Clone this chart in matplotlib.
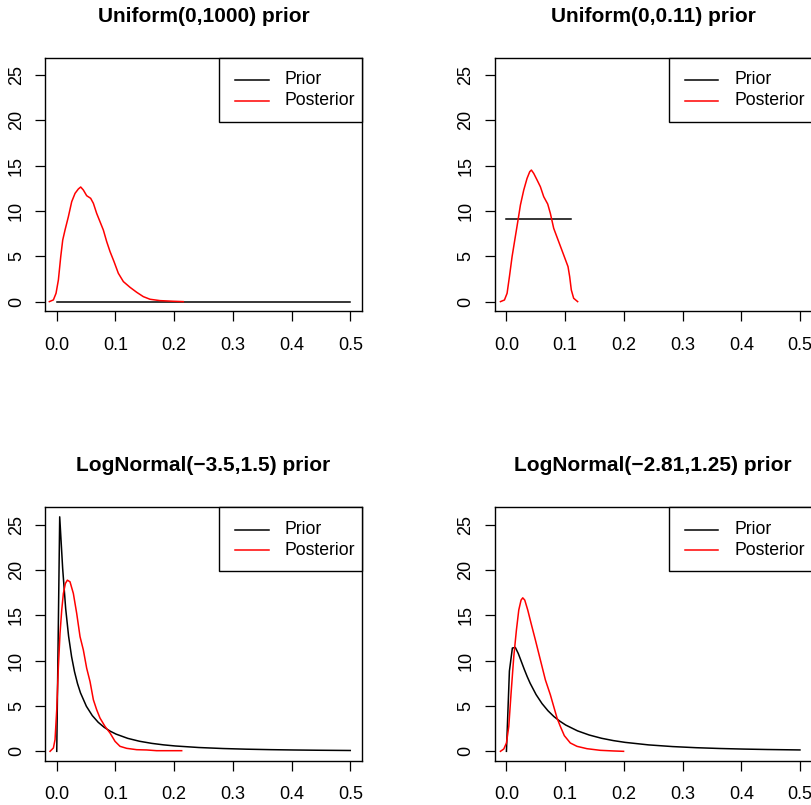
import matplotlib.pyplot as plt
from matplotlib.patches import Rectangle

plt.rcParams['font.family'] = ['Liberation Sans', 'DejaVu Sans']

# --- data ---
titles = ['Uniform(0,1000) prior', 'Uniform(0,0.11) prior',
          'LogNormal(\u22123.5,1.5) prior', 'LogNormal(\u22122.81,1.25) prior']
legend_labels = ['Prior', 'Posterior']
legend_colors = ['black', 'red']

# Uniform(0,1000) prior (flat at 0.001) and posterior
prior1_x = [0.0, 0.5]
prior1_y = [0.001, 0.001]
post1_x = [-0.0126, -0.0057, -0.0012, 0.0028, 0.0068, 0.0102, 0.0141, 0.0198,
           0.0255, 0.0312, 0.0368, 0.0408, 0.0453, 0.051, 0.0578, 0.0624,
           0.068, 0.0737, 0.0794, 0.0851, 0.0908, 0.0976, 0.1049, 0.1135,
           0.1248, 0.1362, 0.1475, 0.1589, 0.1759, 0.1986, 0.2156]
post1_y = [0.0, 0.19, 0.92, 2.39, 4.96, 6.8, 7.9, 9.37,
           11.03, 11.95, 12.43, 12.65, 12.32, 11.69, 11.4, 10.85,
           9.74, 8.82, 7.9, 6.62, 5.52, 4.41, 3.13, 2.21,
           1.58, 1.03, 0.55, 0.26, 0.11, 0.04, 0.0]

# Uniform(0,0.11) prior and posterior
prior2_x = [0.0, 0.11]
prior2_y = [9.09, 9.09]
post2_x = [-0.0102, -0.0034, 0.0011, 0.0051, 0.0096, 0.0142, 0.0193, 0.0238,
           0.0295, 0.0351, 0.0397, 0.0425, 0.0465, 0.0522, 0.0578, 0.0635,
           0.0703, 0.0748, 0.0805, 0.089, 0.0975, 0.1049, 0.1077, 0.1105,
           0.1145, 0.1213]
post2_y = [0.0, 0.18, 0.92, 2.76, 4.96, 6.8, 8.82, 10.66,
           12.32, 13.6, 14.34, 14.52, 14.15, 13.42, 12.68, 11.58,
           10.77, 9.74, 8.09, 6.62, 5.15, 3.86, 2.76, 1.29,
           0.37, 0.0]

# LogNormal(-3.5,1.5) prior and posterior
prior_grid = [0.0, 0.00505, 0.0101, 0.0152, 0.0202, 0.0253, 0.0303, 0.0354,
              0.0404, 0.0505, 0.0606, 0.0707, 0.0808, 0.0909, 0.101, 0.121,
              0.141, 0.162, 0.182, 0.202, 0.242, 0.283, 0.323, 0.364,
              0.404, 0.444, 0.5]
prior3_y = [0.0, 25.88, 20.17, 15.76, 12.7, 10.44, 8.78, 7.47,
            6.46, 4.97, 3.94, 3.2, 2.65, 2.23, 1.9, 1.43,
            1.11, 0.877, 0.713, 0.59, 0.42, 0.309, 0.236, 0.184,
            0.148, 0.12, 0.092]
post3_x = [-0.0114, -0.0057, -0.0029, 0.0, 0.0028, 0.0056, 0.0085, 0.0113,
           0.0147, 0.0181, 0.0226, 0.0283, 0.034, 0.0397, 0.0453, 0.051,
           0.0567, 0.0624, 0.068, 0.0737, 0.0822, 0.0908, 0.0993, 0.1078,
           0.1191, 0.1362, 0.1532, 0.1702, 0.1873, 0.2128]
post3_y = [0.0, 0.37, 1.29, 4.59, 9.35, 13.02, 15.59, 17.42,
           18.52, 18.89, 18.71, 17.42, 15.22, 12.65, 11.19, 9.17,
           7.7, 5.69, 4.59, 3.67, 2.75, 2.02, 1.1, 0.55,
           0.33, 0.18, 0.15, 0.07, 0.07, 0.07]

# LogNormal(-2.81,1.25) prior and posterior
prior4_y = [0.0, 8.86, 11.4, 11.46, 10.79, 9.92, 9.06, 8.24,
            7.51, 6.26, 5.27, 4.48, 3.84, 3.33, 2.9, 2.26,
            1.8, 1.44, 1.185, 0.989, 0.71, 0.524, 0.4, 0.311,
            0.248, 0.2, 0.152]
post4_x = [-0.0102, -0.0045, 0.0, 0.004, 0.0079, 0.0125, 0.017, 0.021,
           0.0249, 0.0278, 0.0312, 0.0363, 0.042, 0.0493, 0.0578, 0.0663,
           0.0748, 0.0805, 0.0862, 0.0918, 0.0986, 0.1088, 0.1202, 0.1372,
           0.1599, 0.1825, 0.1995]
post4_y = [0.0, 0.26, 0.92, 2.75, 6.42, 10.45, 13.39, 15.59,
           16.69, 16.94, 16.69, 15.59, 14.12, 12.29, 10.09, 7.89,
           6.24, 4.95, 3.67, 2.75, 1.73, 0.92, 0.55, 0.29,
           0.11, 0.04, 0.0]

x_ticks = [0.0, 0.1, 0.2, 0.3, 0.4, 0.5]
y_ticks = [0, 5, 10, 15, 20, 25]

panels = [
    (titles[0], prior1_x, prior1_y, post1_x, post1_y),
    (titles[1], prior2_x, prior2_y, post2_x, post2_y),
    (titles[2], prior_grid, prior3_y, post3_x, post3_y),
    (titles[3], prior_grid, prior4_y, post4_x, post4_y),
]

# axes boxes in figure fraction (left, bottom, width, height)
W, H = 811, 805
col_left = [45 / W, 494.7 / W]
row_bottom = [1 - 311 / H, 1 - 760.7 / H]
ax_w, ax_h = 317 / W, 253.3 / H
axw_px, axh_px = 317.0, 253.3

# R style legend box (sizes in pixels, converted to axes fraction)
leg_w, leg_h = 142.7, 64.0
leg_line = (16.0, 49.3)     # line start/end from legend left
leg_text = 65.0             # text start from legend left
leg_rows = (22.3, 43.0)     # row centres from legend top

fig = plt.figure(figsize=(8.11, 8.05), dpi=100)

for i, (title, px, py, qx, qy) in enumerate(panels):
    ax = fig.add_axes([col_left[i % 2], row_bottom[i // 2], ax_w, ax_h])
    ax.plot(px, py, color=legend_colors[0], lw=1.1)
    ax.plot(qx, qy, color=legend_colors[1], lw=1.1)
    ax.set_xlim(-0.02, 0.52)
    ax.set_ylim(-1.035, 26.92)
    ax.set_xticks(x_ticks)
    ax.set_xticklabels(['%.1f' % t for t in x_ticks])
    ax.set_yticks(y_ticks)
    ax.tick_params(axis='both', direction='out', length=7.5, width=0.9,
                   labelsize=13, color='black')
    ax.tick_params(axis='x', pad=11)
    ax.tick_params(axis='y', pad=7, labelrotation=90)
    for lab in ax.get_yticklabels():
        lab.set_va('center')
    for sp in ax.spines.values():
        sp.set_linewidth(1.0)
    ax.set_title(title, fontsize=15, fontweight='bold', pad=26)

    # legend drawn the way R's legend() lays it out
    x0 = 1 - leg_w / axw_px
    ax.add_patch(Rectangle((x0, 1 - leg_h / axh_px), leg_w / axw_px, leg_h / axh_px,
                           transform=ax.transAxes, facecolor='white',
                           edgecolor='black', lw=1.0, zorder=5, clip_on=False))
    for lab, col, row in zip(legend_labels, legend_colors, leg_rows):
        yy = 1 - row / axh_px
        ax.plot([x0 + leg_line[0] / axw_px, x0 + leg_line[1] / axw_px], [yy, yy],
                transform=ax.transAxes, color=col, lw=1.1, zorder=6, clip_on=False)
        ax.text(x0 + leg_text / axw_px, yy, lab, transform=ax.transAxes,
                fontsize=12.7, va='center', ha='left', zorder=6)

fig.savefig('out.png', dpi=100)
